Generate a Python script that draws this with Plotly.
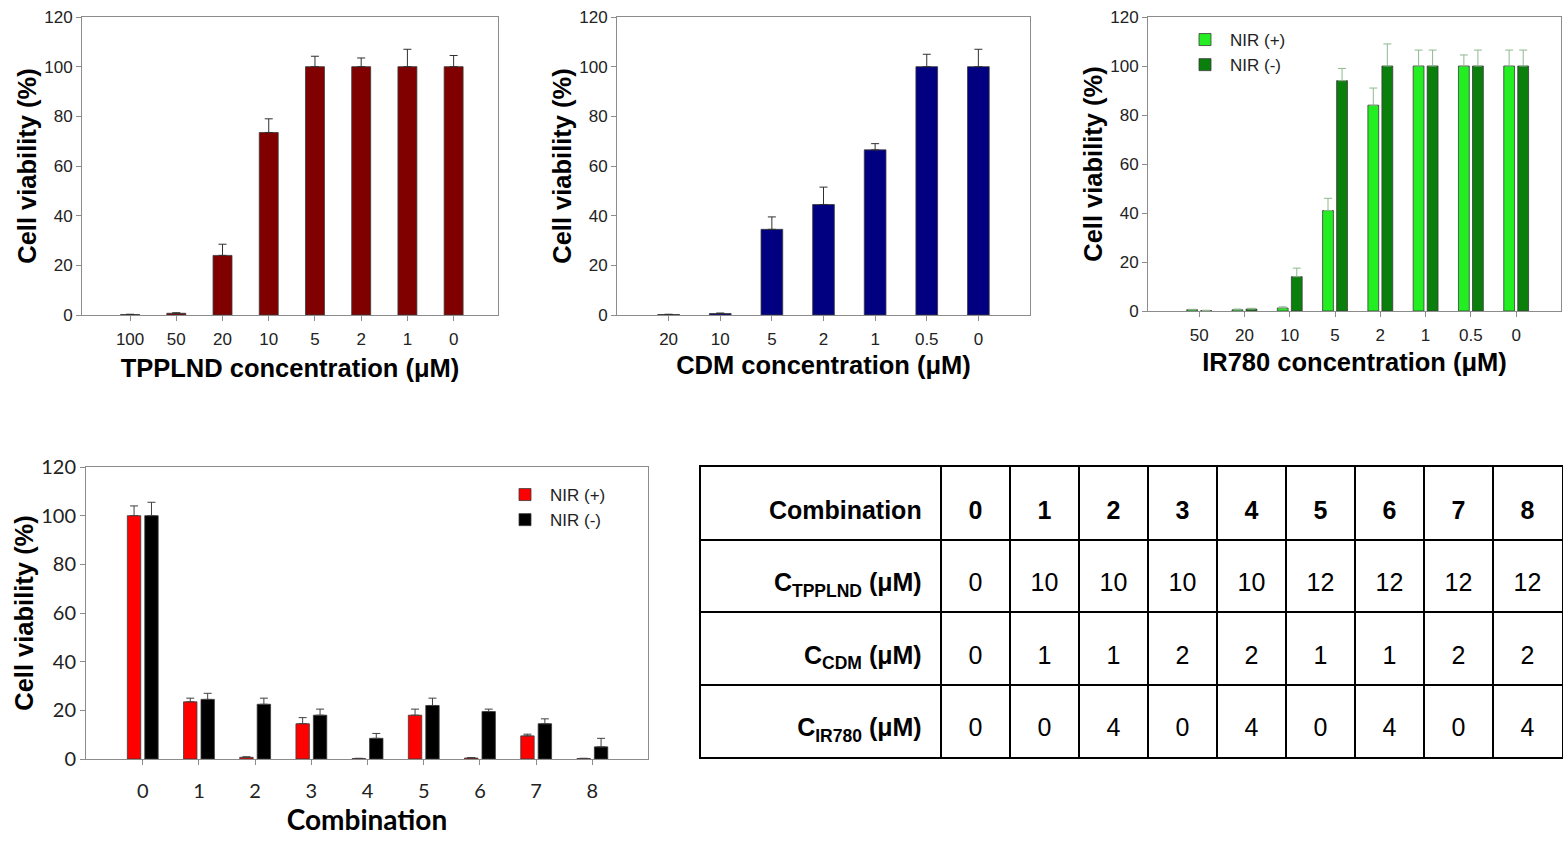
import plotly.graph_objects as go

W, H = 1563, 843

# ---------------- data ----------------
tpp_cats = ["100", "50", "20", "10", "5", "2", "1", "0"]
tpp_vals = [0.2, 0.7, 24, 73.5, 100, 100, 100, 100]
tpp_err = [0.1, 0.2, 4.5, 5.5, 4.2, 3.5, 7, 4.5]

cdm_cats = ["20", "10", "5", "2", "1", "0.5", "0"]
cdm_vals = [0.2, 0.6, 34.5, 44.5, 66.5, 100, 100]
cdm_err = [0.1, 0.2, 5, 7, 2.5, 5, 7]

ir_cats = ["50", "20", "10", "5", "2", "1", "0.5", "0"]
ir_plus = [0.5, 0.5, 1.2, 41, 84, 100, 100, 100]
ir_plus_err = [0.2, 0.3, 0.5, 5, 7, 6.5, 4.5, 6.5]
ir_minus = [0.2, 0.8, 14, 94, 100, 100, 100, 100]
ir_minus_err = [0.1, 0.3, 3.5, 5, 9, 6.5, 6.5, 6.5]

comb_cats = ["0", "1", "2", "3", "4", "5", "6", "7", "8"]
comb_plus = [100, 23.5, 0.7, 14.5, 0.2, 18, 0.4, 9.5, 0.2]
comb_plus_err = [4, 1.5, 0.2, 2.5, 0.1, 2.5, 0.2, 0.7, 0.1]
comb_minus = [100, 24.5, 22.5, 18, 8.5, 22, 19.5, 14.5, 5]
comb_minus_err = [5.5, 2.5, 2.5, 2.5, 2, 3, 1, 2, 3.5]

table_header = ["Combination", "0", "1", "2", "3", "4", "5", "6", "7", "8"]
table_rows = ["C<sub>TPPLND</sub> (μM)", "C<sub>CDM</sub> (μM)", "C<sub>IR780</sub> (μM)"]
c_tpplnd = [0, 10, 10, 10, 10, 12, 12, 12, 12]
c_cdm = [0, 1, 1, 2, 2, 1, 1, 2, 2]
c_ir780 = [0, 0, 4, 0, 4, 0, 4, 0, 4]

# ---------------- helpers ----------------
def px_x(a, b):
    return [a / W, b / W]

def px_y(top, bottom):
    return [1 - bottom / H, 1 - top / H]

ARIAL = "Liberation Sans, Arial, sans-serif"
LATO = "Lato, Open Sans, sans-serif"
AXCOL = "#8c8c8c"

fig = go.Figure()

def bar(x, y, err, color, xa, ya, name=None, ecol="#303030", legend=None, show=False, width=None):
    kw = dict(
        x=x, y=y, marker=dict(color=color, line=dict(color="#3a3a3a", width=0.8)),
        error_y=dict(type="data", symmetric=False, array=err, arrayminus=[0] * len(err),
                     color=ecol, thickness=1, width=4),
        xaxis=xa, yaxis=ya, showlegend=show, name=name,
    )
    if width is not None:
        kw["width"] = width
    if legend:
        kw["legend"] = legend
    fig.add_trace(go.Bar(**kw))

bar(tpp_cats, tpp_vals, tpp_err, "#800000", "x", "y", width=0.41)
bar(cdm_cats, cdm_vals, cdm_err, "#000080", "x2", "y2", width=0.42)
bar(ir_cats, ir_plus, ir_plus_err, "#22ee22", "x3", "y3", name="NIR (+)", ecol="#8fb88f",
    legend="legend", show=True)
bar(ir_cats, ir_minus, ir_minus_err, "#0b7f0b", "x3", "y3", name="NIR (-)", ecol="#8fb88f",
    legend="legend", show=True)
bar(comb_cats, comb_plus, comb_plus_err, "#ff0000", "x4", "y4", name="NIR (+)", ecol="#404040",
    legend="legend2", show=True)
bar(comb_cats, comb_minus, comb_minus_err, "#000000", "x4", "y4", name="NIR (-)", ecol="#404040",
    legend="legend2", show=True)

def xaxis(dom, rng, title, anchor, tickfont, titlefont_family=ARIAL, standoff=6, size=25.5,
          labelstandoff=4):
    return dict(domain=dom, range=rng, type="category", anchor=anchor, automargin=False,
                showline=True, linecolor=AXCOL, linewidth=1, mirror=True,
                ticks="outside", ticklen=5, tickcolor=AXCOL, showgrid=False,
                tickfont=tickfont, ticklabelstandoff=labelstandoff,
                title=dict(text=title, font=dict(family=titlefont_family, size=size, color="#000", weight="bold"),
                           standoff=standoff))

def yaxis(dom, anchor, tickfont, standoff=0):
    return dict(domain=dom, range=[0, 120], anchor=anchor, dtick=20, automargin=False,
                showline=True, linecolor=AXCOL, linewidth=1, mirror=True,
                ticks="outside", ticklen=5, tickcolor=AXCOL, showgrid=False, zeroline=False,
                tickfont=tickfont,
                title=dict(text="Cell viability (%)", font=dict(family=ARIAL, size=25.5, color="#000", weight="bold"),
                           standoff=standoff))

tf = dict(family=ARIAL, size=17, color="#222")
tf4 = dict(family=LATO, size=20, color="#222")

# ---------------- table drawn on its own axes ----------------
FIRST_W = 240 / 69.0          # width of label column, in units of a value column
col_edges = [0, FIRST_W] + [FIRST_W + i + 1 for i in range(9)]
n_rows = 4
row_edges = list(range(n_rows + 1))
TEXT_DROP = 0.13              # optical offset of text within a row
col_centers = [FIRST_W + i + 0.5 for i in range(9)]
row_centers = [n_rows - r - 0.5 - TEXT_DROP for r in range(n_rows)]  # top row first
label_x = FIRST_W - 0.28

TBL_FONT = "Liberation Sans Narrow, Arial Narrow, Liberation Sans, Arial, sans-serif"

# header row
fig.add_trace(go.Scatter(
    x=[label_x] + col_centers, y=[row_centers[0]] * 10,
    text=["<b>" + h + "</b>" for h in table_header],
    mode="text", textposition=["middle left"] + ["middle center"] * 9,
    textfont=dict(family=TBL_FONT, size=25, color="black"),
    xaxis="x5", yaxis="y5", showlegend=False, hoverinfo="skip", cliponaxis=False))
# row labels
fig.add_trace(go.Scatter(
    x=[label_x] * 3, y=row_centers[1:],
    text=["<b>" + r + "</b>" for r in table_rows],
    mode="text", textposition="middle left",
    textfont=dict(family=TBL_FONT, size=25, color="black"),
    xaxis="x5", yaxis="y5", showlegend=False, hoverinfo="skip", cliponaxis=False))
# values
for r, vals in enumerate([c_tpplnd, c_cdm, c_ir780]):
    fig.add_trace(go.Scatter(
        x=col_centers, y=[row_centers[r + 1]] * 9,
        text=[str(v) for v in vals],
        mode="text", textposition="middle center",
        textfont=dict(family=TBL_FONT, size=25, color="black"),
        xaxis="x5", yaxis="y5", showlegend=False, hoverinfo="skip", cliponaxis=False))

fig.update_layout(
    width=W, height=H, margin=dict(l=0, r=0, t=0, b=0, autoexpand=False),
    paper_bgcolor="white", plot_bgcolor="white",
    barmode="group",
    xaxis=xaxis(px_x(82, 498), [-1.04, 7.96], "TPPLND concentration (μM)", "y", tf, standoff=10),
    yaxis=yaxis(px_y(17, 315), "x", tf),
    xaxis2=xaxis(px_x(617, 1030), [-1.0, 7.0], "CDM concentration (μM)", "y2", tf, standoff=7),
    yaxis2=yaxis(px_y(17, 315), "x2", tf),
    xaxis3=xaxis(px_x(1148, 1561), [-1.13, 7.99], "IR780 concentration (μM)", "y3", tf, standoff=8),
    yaxis3=yaxis(px_y(17, 311), "x3", tf),
    xaxis4=xaxis(px_x(86, 648), [-1.01, 8.99], "Combination", "y4", tf4,
                 titlefont_family=LATO, size=28, labelstandoff=9, standoff=0),
    yaxis4=yaxis(px_y(467, 759), "x4", tf4),
    xaxis5=dict(domain=px_x(701, 1562), range=[0, col_edges[-1]], anchor="y5",
                tickvals=col_edges, showticklabels=False, ticks="",
                showgrid=True, gridcolor="black", gridwidth=2, zeroline=False,
                showline=True, linecolor="black", linewidth=2, mirror=True, automargin=False),
    yaxis5=dict(domain=px_y(467, 757), range=[0, n_rows], anchor="x5",
                tickvals=row_edges, showticklabels=False, ticks="",
                showgrid=True, gridcolor="black", gridwidth=2, zeroline=False,
                showline=True, linecolor="black", linewidth=2, mirror=True, automargin=False),
    bargap=0.38, bargroupgap=0.23,
    legend=dict(x=1180 / W, y=1 - 22 / H, xanchor="left", yanchor="top",
                font=dict(family=ARIAL, size=17, color="#222"), bgcolor="rgba(0,0,0,0)",
                tracegroupgap=0, itemwidth=40),
    legend2=dict(x=500 / W, y=1 - 477 / H, xanchor="left", yanchor="top",
                 font=dict(family=ARIAL, size=17, color="#222"), bgcolor="rgba(0,0,0,0)",
                 tracegroupgap=0, itemwidth=40),
)

fig.write_html("out.html")
